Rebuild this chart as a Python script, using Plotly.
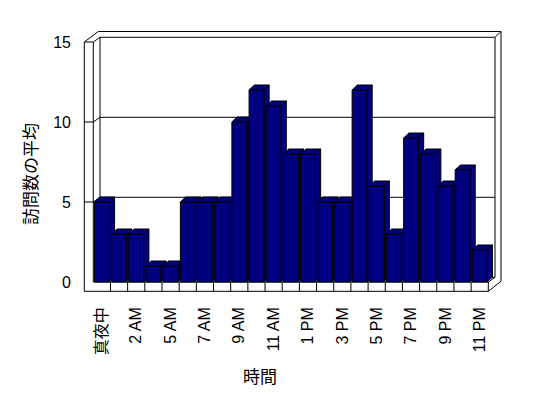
import plotly.graph_objects as go

# ---- data ----
hours = ["真夜中", "1 AM", "2 AM", "3 AM", "5 AM", "6 AM", "7 AM", "8 AM", "9 AM",
         "10 AM", "11 AM", "正午", "1 PM", "2 PM", "3 PM", "4 PM", "5 PM", "6 PM",
         "7 PM", "8 PM", "9 PM", "10 PM", "11 PM"]
visits = [5, 3, 3, 1, 1, 5, 5, 5, 10, 12, 11, 8, 8, 5, 5, 12, 6, 3, 9, 8, 6, 7, 2]
y_ticks = [0, 5, 10, 15]
x_title = "時間"
y_title = "訪問数の平均"

# ---- geometry / style ----
W, H = 548, 398
ML, MR, MT, MB = 83, 46, 30, 106
CAT_PX = 395 / 23          # pixels per category
U = 16.0                   # pixels per value unit
FRONT_LEFT_PX = 93.3
ZERO_PY = 282
NAVY = "#000080"
FONT = "Liberation Sans, Noto Sans CJK JP, sans-serif"

n = len(hours)
x0 = -0.5 - (FRONT_LEFT_PX - ML) / CAT_PX
x1 = x0 + (W - ML - MR) / CAT_PX
y0 = -((H - MB) - ZERO_PY) / U
y1 = (ZERO_PY - MT) / U

def pxx(p):
    return p / CAT_PX

def pxy(p):
    return p / U

XL, XR = -0.5, n - 0.5
YT = y_ticks[-1]
LEFT_T = pxx(9)
FLOOR_T = pxy(9.3)
WDX, WDY = pxx(6.7), pxy(4.7)
ODX, ODY = pxx(14), pxy(10.5)
ORX = pxx(12.7)
RDY = pxy(10)
BDX, BDY = pxx(5.3), pxy(5)
HW = 0.43

shapes = []

def line(a, b, c, d):
    shapes.append(dict(type="line", x0=a, y0=b, x1=c, y1=d, xref="x", yref="y",
                       layer="below", line=dict(color="black", width=1)))

def poly(pts):
    path = "M " + " L ".join(f"{x},{y}" for x, y in pts) + " Z"
    shapes.append(dict(type="path", path=path, xref="x", yref="y", layer="below",
                       fillcolor=NAVY, line=dict(color="black", width=1)))

# frame: left wall, back wall, floor
line(XL - LEFT_T, YT, XL - LEFT_T, -FLOOR_T)
line(XL, YT, XL, 0)
line(XL - LEFT_T, YT, XL, YT)
line(XL - LEFT_T, YT, XL - LEFT_T + ODX, YT + ODY)
line(XL, YT, XL + WDX, YT + WDY)
line(XL - LEFT_T + ODX, YT + ODY, XR + ORX, YT + ODY)
line(XL + WDX, YT + WDY, XR + WDX, YT + WDY)
line(XR + WDX, YT + WDY, XR + ORX, YT + ODY)
line(XR + WDX, YT + WDY, XR + WDX, WDY)
line(XR + ORX, YT + ODY, XR + ORX, -FLOOR_T + RDY)
line(XL + WDX, YT + WDY, XL + WDX, WDY)
line(XL + WDX, WDY, XR + WDX, WDY)
line(XL - LEFT_T, -FLOOR_T, XR, -FLOOR_T)
line(XL, 0, XR, 0)
line(XR, 0, XR, -FLOOR_T)
line(XR, -FLOOR_T, XR + ORX, -FLOOR_T + RDY)
line(XR, 0, XR + WDX, WDY)
for k in range(1, n):
    line(k - 0.5, 0, k - 0.5, -FLOOR_T)
for v in y_ticks[1:-1]:
    line(XL - LEFT_T, v, XL, v)
    line(XL, v, XL + WDX, v + WDY)
    line(XL + WDX, v + WDY, XR + WDX, v + WDY)

# 3D faces of the bars (side and top), drawn behind the front faces
for i, v in enumerate(visits):
    poly([(i + HW, 0), (i + HW + BDX, BDY), (i + HW + BDX, v + BDY), (i + HW, v)])
    poly([(i - HW, v), (i - HW + BDX, v + BDY), (i + HW + BDX, v + BDY), (i + HW, v)])

fig = go.Figure()
fig.add_trace(go.Bar(
    x=list(range(n)), y=visits, width=2 * HW,
    marker=dict(color=NAVY, line=dict(color="black", width=1)),
    hovertext=hours, hoverinfo="text+y", showlegend=False,
))

def paper_x(p):
    return (p - ML) / (W - ML - MR)

def paper_y(p):
    return ((H - MB) - p) / (H - MT - MB)

fig.update_layout(
    template="none",
    width=W, height=H,
    margin=dict(l=ML, r=MR, t=MT, b=MB, pad=0),
    paper_bgcolor="white", plot_bgcolor="white",
    font=dict(family=FONT, color="black", size=16),
    shapes=shapes,
    showlegend=False,
    xaxis=dict(range=[x0, x1], showgrid=False, zeroline=False, showline=False,
               tickmode="array", tickvals=list(range(0, n, 2)), ticktext=hours[::2],
               tickangle=-90, ticks="", tickfont=dict(size=16, family=FONT, color="black"),
               ticklabelstandoff=11, automargin=False, fixedrange=True),
    yaxis=dict(range=[y0, y1], showgrid=False, zeroline=False, showline=False,
               tickmode="array", tickvals=y_ticks, ticks="",
               tickfont=dict(size=16, family=FONT, color="black"),
               ticklabelstandoff=11, automargin=False, fixedrange=True),
    annotations=[
        dict(text=x_title, xref="paper", yref="paper", x=paper_x(260), y=paper_y(377),
             xanchor="center", yanchor="middle", showarrow=False,
             font=dict(size=17, family=FONT, color="black")),
        dict(text=y_title, xref="paper", yref="paper", x=paper_x(31), y=paper_y(174),
             xanchor="center", yanchor="middle", showarrow=False, textangle=-90,
             font=dict(size=17, family=FONT, color="black")),
    ],
)

fig.write_html(
    "out.html",
    config={"displayModeBar": False},
    post_script="document.body.style.margin='0';document.body.style.overflow='hidden';",
)
